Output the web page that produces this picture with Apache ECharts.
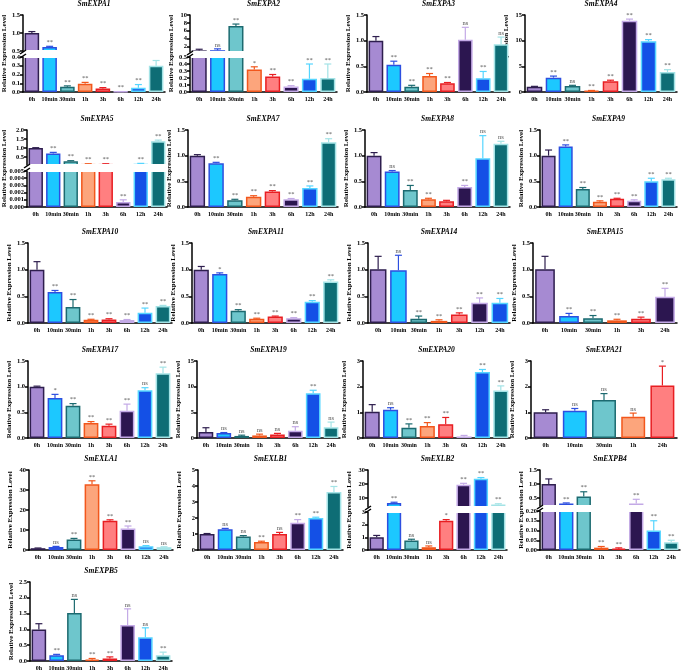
<!DOCTYPE html>
<html>
<head>
<meta charset="utf-8">
<script src="https://cdn.jsdelivr.net/npm/echarts@6/dist/echarts.min.js"></script>
<style>html,body{margin:0;padding:0;background:#fff}#main{width:685px;height:672px}</style>
</head>
<body>
<div id="main"></div>
<script>
// categories
var cat8 = ['0h', '10min', '30min', '1h', '3h', '6h', '12h', '24h'];
var cat7 = ['0h', '10min', '30min', '1h', '3h', '12h', '24h'];
var cat6 = ['0h', '10min', '30min', '1h', '3h', '24h'];
var cat5 = ['0h', '10min', '30min', '1h', '24h'];

// mean / sd / significance per gene
var expa1Mean = [1.0, 0.61, 0.06, 0.095, 0.04, 0.003, 0.05, 0.30];
var expa1Sd = [0.04, 0.02, 0.01, 0.015, 0.01, 0.002, 0.035, 0.06];
var expa1Sig = ['', '**', '**', '**', '**', '**', '**', '**'];

var expa2Mean = [1.0, 1.05, 7.2, 0.32, 0.22, 0.08, 0.19, 0.20];
var expa2Sd = [0.3, 0.35, 0.5, 0.04, 0.03, 0.01, 0.21, 0.20];
var expa2Sig = ['', 'ns', '**', '*', '**', '**', '**', '**'];

var expa3Mean = [1.0, 0.53, 0.10, 0.31, 0.17, 1.02, 0.27, 0.93];
var expa3Sd = [0.08, 0.07, 0.03, 0.05, 0.015, 0.24, 0.13, 0.14];
var expa3Sig = ['', '**', '**', '**', '**', 'ns', '**', 'ns'];

var expa4Mean = [1.0, 2.8, 1.15, 0.25, 2.1, 13.9, 9.9, 3.9];
var expa4Sd = [0.1, 0.3, 0.15, 0.05, 0.2, 0.3, 0.3, 0.45];
var expa4Sig = ['', '**', 'ns', '**', '**', '**', '**', '**'];

var expa5Mean = [1.0, 0.70, 0.27, 0.12, 0.12, 0.0007, 0.13, 1.38];
var expa5Sd = [0.02, 0.06, 0.03, 0.01, 0.01, 0.0003, 0.02, 0.06];
var expa5Sig = ['', '**', '**', '**', '**', '**', '**', '**'];

var expa7Mean = [1.0, 0.85, 0.13, 0.20, 0.30, 0.15, 0.37, 1.26];
var expa7Sd = [0.02, 0.02, 0.02, 0.02, 0.02, 0.015, 0.04, 0.07];
var expa7Sig = ['', '**', '**', '**', '**', '**', '**', '**'];

var expa8Mean = [1.0, 0.69, 0.33, 0.15, 0.11, 0.39, 0.95, 1.23];
var expa8Sd = [0.06, 0.02, 0.09, 0.02, 0.02, 0.03, 0.44, 0.05];
var expa8Sig = ['', 'ns', '**', '**', '', '**', 'ns', 'ns'];

var expa9Mean = [1.0, 1.18, 0.35, 0.10, 0.16, 0.12, 0.50, 0.54];
var expa9Sd = [0.11, 0.03, 0.03, 0.02, 0.01, 0.02, 0.06, 0.02];
var expa9Sig = ['', '**', '**', '**', '**', '**', '**', '**'];

var expa10Mean = [1.0, 0.58, 0.30, 0.06, 0.065, 0.055, 0.19, 0.32];
var expa10Sd = [0.15, 0.03, 0.14, 0.01, 0.015, 0.01, 0.09, 0.01];
var expa10Sig = ['', '**', '**', '**', '**', '**', '**', '**'];

var expa11Mean = [1.0, 0.92, 0.23, 0.08, 0.12, 0.09, 0.40, 0.78];
var expa11Sd = [0.06, 0.02, 0.02, 0.01, 0.01, 0.01, 0.02, 0.03];
var expa11Sig = ['', '*', '**', '**', '**', '**', '**', '**'];

var expa14Mean = [1.01, 0.99, 0.08, 0.04, 0.16, 0.38, 0.38];
var expa14Sd = [0.24, 0.28, 0.05, 0.02, 0.03, 0.09, 0.08];
var expa14Sig = ['', 'ns', '**', '**', '**', '**', '**'];

var expa15Mean = [1.01, 0.13, 0.09, 0.05, 0.08, 0.49];
var expa15Sd = [0.24, 0.05, 0.05, 0.02, 0.03, 0.16];
var expa15Sig = ['', '**', '**', '**', '**', '**'];

var expa17Mean = [1.0, 0.78, 0.63, 0.29, 0.24, 0.53, 0.93, 1.26];
var expa17Sd = [0.01, 0.07, 0.04, 0.03, 0.03, 0.13, 0.05, 0.12];
var expa17Sig = ['', '*', '**', '**', '**', '**', 'ns', '**'];

var expa19Mean = [1.15, 0.96, 0.4, 0.5, 0.7, 1.4, 8.7, 2.1];
var expa19Sd = [0.85, 0.1, 0.15, 0.25, 0.2, 0.8, 0.6, 1.0];
var expa19Sig = ['', 'ns', 'ns', 'ns', 'ns', 'ns', '**', 'ns'];

var expa20Mean = [1.02, 1.1, 0.4, 0.47, 0.54, 0.06, 2.57, 1.85];
var expa20Sd = [0.28, 0.08, 0.15, 0.13, 0.26, 0.04, 0.1, 0.18];
var expa20Sig = ['', 'ns', '**', '**', '**', '', '**', '**'];

var expa21Mean = [1.0, 1.06, 1.48, 0.83, 2.05];
var expa21Sd = [0.1, 0.09, 0.25, 0.14, 0.75];
var expa21Sig = ['', 'ns', 'ns', 'ns', '*'];

var exla1Mean = [0.9, 1.5, 5.3, 32.9, 14.6, 10.8, 1.9, 1.4];
var exla1Sd = [0.1, 0.3, 0.5, 1.7, 0.5, 1.2, 0.3, 0.2];
var exla1Sig = ['', 'ns', '**', '**', '**', '**', 'ns', 'ns'];

var exlb1Mean = [1.0, 1.3, 0.85, 0.5, 1.0, 1.7, 2.0, 3.62];
var exlb1Sd = [0.03, 0.05, 0.05, 0.05, 0.1, 0.2, 0.05, 0.35];
var exlb1Sig = ['', 'ns', 'ns', '**', 'ns', '**', '**', '**'];

var exlb2Mean = [1.0, 6.5, 0.75, 0.22, 2.3, 19.5, 23.8, 5.3];
var exlb2Sd = [0.15, 0.5, 0.1, 0.1, 0.1, 1.0, 0.8, 0.6];
var exlb2Sig = ['', '**', 'ns', 'ns', '*', '**', '**', '**'];

var expb4Mean = [1.0, 0.30, 0.55, 0.012, 0.007, 0.30, 0.10, 0.04];
var expb4Sd = [0.18, 0.02, 0.17, 0.006, 0.004, 0.15, 0.05, 0.01];
var expb4Sig = ['', '**', '**', '**', '**', '**', '**', '**'];

var expb5Mean = [1.0, 0.18, 1.52, 0.04, 0.08, 1.14, 0.75, 0.18];
var expb5Sd = [0.18, 0.03, 0.43, 0.04, 0.05, 0.51, 0.30, 0.1];
var expb5Sig = ['', '**', 'ns', '**', '**', 'ns', 'ns', '**'];

// 颜色按柱子位置
var fills = ['#A68AD2', '#1CC8FF', '#6EC6CC', '#FCA57C', '#FF7F80', '#2C1650', '#1450E6', '#0E6D75'];
var borders = ['#2E1E4E', '#2D4FE0', '#1C6A70', '#F2571C', '#E81E22', '#C3A9E6', '#55D5FF', '#A3E3E6'];
var serif = '"Liberation Serif", "Times New Roman", serif';

// layout of each panel
var panels = [
    {gene: 'SmEXPA1', cats: cat8, mean: expa1Mean, sd: expa1Sd, sig: expa1Sig, left: 23, right: 165, top: 15, bottom: 92,
        brk: {upMin: 0.5, upMax: 1.5, upTicks: [0.5, 1.0, 1.5], upBottom: 51, upDec: 1, loMax: 0.4, loTicks: [0, 0.1, 0.2, 0.3, 0.4], loTop: 57, loDec: 1}},
    {gene: 'SmEXPA2', cats: cat8, mean: expa2Mean, sd: expa2Sd, sig: expa2Sig, left: 190, right: 337, top: 15, bottom: 92,
        brk: {upMin: 0.6, upMax: 10, upTicks: [2, 4, 6, 8, 10], upBottom: 52, upDec: 0, loMax: 0.5, loTicks: [0, 0.1, 0.2, 0.3, 0.4, 0.5], loTop: 57, loDec: 1}},
    {gene: 'SmEXPA3', cats: cat8, mean: expa3Mean, sd: expa3Sd, sig: expa3Sig, left: 367, right: 510, top: 15, bottom: 92, max: 1.5, step: 0.5, dec: 1},
    {gene: 'SmEXPA4', cats: cat8, mean: expa4Mean, sd: expa4Sd, sig: expa4Sig, left: 525, right: 677, top: 15, bottom: 92, max: 15, step: 5, dec: 0},

    {gene: 'SmEXPA5', cats: cat8, mean: expa5Mean, sd: expa5Sd, sig: expa5Sig, left: 27, right: 167, top: 130, bottom: 207, nameGap: 20,
        brk: {upMin: 0.06, upMax: 2.0, upTicks: [0.5, 1.0, 1.5, 2.0], upBottom: 165, upDec: 1, loMax: 0.005, loTicks: [0, 0.001, 0.002, 0.003, 0.004, 0.005], loTop: 171, loDec: 3}},
    {gene: 'SmEXPA7', cats: cat8, mean: expa7Mean, sd: expa7Sd, sig: expa7Sig, left: 188, right: 338, top: 130, bottom: 207, max: 1.5, step: 0.5, dec: 1},
    {gene: 'SmEXPA8', cats: cat8, mean: expa8Mean, sd: expa8Sd, sig: expa8Sig, left: 365, right: 510, top: 130, bottom: 207, max: 1.5, step: 0.5, dec: 1},
    {gene: 'SmEXPA9', cats: cat8, mean: expa9Mean, sd: expa9Sd, sig: expa9Sig, left: 540, right: 677, top: 130, bottom: 207, max: 1.5, step: 0.5, dec: 1},

    {gene: 'SmEXPA10', cats: cat8, mean: expa10Mean, sd: expa10Sd, sig: expa10Sig, left: 28, right: 172, top: 243, bottom: 323, max: 1.5, step: 0.5, dec: 1},
    {gene: 'SmEXPA11', cats: cat8, mean: expa11Mean, sd: expa11Sd, sig: expa11Sig, left: 192, right: 340, top: 243, bottom: 323, max: 1.5, step: 0.5, dec: 1},
    {gene: 'SmEXPA14', cats: cat7, mean: expa14Mean, sd: expa14Sd, sig: expa14Sig, left: 368, right: 510, top: 243, bottom: 323, max: 1.5, step: 0.5, dec: 1},
    {gene: 'SmEXPA15', cats: cat6, mean: expa15Mean, sd: expa15Sd, sig: expa15Sig, left: 533, right: 677, top: 243, bottom: 323, max: 1.5, step: 0.5, dec: 1},

    {gene: 'SmEXPA17', cats: cat8, mean: expa17Mean, sd: expa17Sd, sig: expa17Sig, left: 28, right: 172, top: 361, bottom: 438, max: 1.5, step: 0.5, dec: 1},
    {gene: 'SmEXPA19', cats: cat8, mean: expa19Mean, sd: expa19Sd, sig: expa19Sig, left: 197, right: 340, top: 361, bottom: 438, max: 15, step: 5, dec: 0},
    {gene: 'SmEXPA20', cats: cat8, mean: expa20Mean, sd: expa20Sd, sig: expa20Sig, left: 363, right: 510, top: 361, bottom: 438, max: 3, step: 1, dec: 0},
    {gene: 'SmEXPA21', cats: cat5, mean: expa21Mean, sd: expa21Sd, sig: expa21Sig, left: 531, right: 677, top: 361, bottom: 438, max: 3, step: 1, dec: 0},

    {gene: 'SmEXLA1', cats: cat8, mean: exla1Mean, sd: exla1Sd, sig: exla1Sig, left: 29, right: 173, top: 470, bottom: 550, max: 40, step: 10, dec: 0},
    {gene: 'SmEXLB1', cats: cat8, mean: exlb1Mean, sd: exlb1Sd, sig: exlb1Sig, left: 198, right: 343, top: 470, bottom: 550, max: 5, step: 1, dec: 0},
    {gene: 'SmEXLB2', cats: cat8, mean: exlb2Mean, sd: exlb2Sd, sig: exlb2Sig, left: 368, right: 507, top: 470, bottom: 550,
        brk: {upMin: 3.6, upMax: 30, upTicks: [10, 20, 30], upBottom: 507, upDec: 0, loMax: 3, loTicks: [0, 1, 2, 3], loTop: 512, loDec: 0}},
    {gene: 'SmEXPB4', cats: cat8, mean: expb4Mean, sd: expb4Sd, sig: expb4Sig, left: 540, right: 680, top: 470, bottom: 550,
        brk: {upMin: 0.21, upMax: 1.5, upTicks: [0.5, 1.0, 1.5], upBottom: 506, upDec: 1, loMax: 0.2, loTicks: [0, 0.05, 0.1, 0.15, 0.2], loTop: 511, loDec: 2}},

    {gene: 'SmEXPB5', cats: cat8, mean: expb5Mean, sd: expb5Sd, sig: expb5Sig, left: 30, right: 172, top: 582, bottom: 661, max: 2.5, step: 0.5, dec: 1}
];

var grids = [], xAxes = [], yAxes = [], series = [], graphics = [];

var labelStyle = {fontFamily: serif, fontWeight: 'bold', fontSize: 6.5, color: '#000'};
var xLabelStyle = {fontFamily: serif, fontWeight: 'bold', fontSize: 6, color: '#000'};
var lineStyle = {color: '#000', width: 1.5};

function addGrid(p, top, bottom, showX) {
    var gi = grids.length;
    grids.push({left: p.left, top: top, width: p.right - p.left, height: bottom - top});
    xAxes.push({
        type: 'category', gridIndex: gi, data: p.cats, show: showX,
        axisLine: {lineStyle: lineStyle},
        axisTick: {alignWithLabel: true, length: 3, lineStyle: lineStyle},
        axisLabel: Object.assign({interval: 0, margin: 4}, xLabelStyle)
    });
    return gi;
}

function valueAxis(gi, cfg, dec) {
    var ax = {
        type: 'value', gridIndex: gi,
        axisLine: {show: true, lineStyle: lineStyle},
        axisTick: {show: true, length: 3, lineStyle: lineStyle},
        splitLine: {show: false},
        axisLabel: Object.assign({margin: 3, formatter: function (v) { return v.toFixed(dec); }}, labelStyle)
    };
    return Object.assign(ax, cfg);
}

function barSeries(gi, p, values) {
    return {
        type: 'bar', xAxisIndex: gi, yAxisIndex: gi, clip: true, barCategoryGap: '18%',
        data: values.map(function (v, i) {
            return {value: v, itemStyle: {color: fills[i], borderColor: borders[i], borderWidth: 1.5}};
        })
    };
}

// 误差线 + 显著性标记
function errSeries(gi, p, idx) {
    return {
        type: 'custom', xAxisIndex: gi, yAxisIndex: gi, z: 3,
        data: idx.map(function (i) { return [i, p.mean[i], p.mean[i] + p.sd[i]]; }),
        renderItem: function (params, api) {
            var i = api.value(0);
            var a = api.coord([i, api.value(1)]);
            var b = api.coord([i, api.value(2)]);
            var c = borders[i];
            var kids = [
                {type: 'line', shape: {x1: a[0], y1: a[1], x2: b[0], y2: b[1]}, style: {stroke: c, lineWidth: 1.2}},
                {type: 'line', shape: {x1: b[0] - 3.5, y1: b[1], x2: b[0] + 3.5, y2: b[1]}, style: {stroke: c, lineWidth: 1.2}}
            ];
            if (p.sig[i]) {
                kids.push({type: 'text', x: b[0], y: b[1] - 0.5, style: {
                    text: p.sig[i], textAlign: 'center', textVerticalAlign: 'bottom',
                    fill: '#555', font: '6.5px ' + serif
                }});
            }
            return {type: 'group', children: kids};
        }
    };
}

var yName = 'Relative Expression Level';
var nameStyle = {fontFamily: serif, fontWeight: 'bold', fontSize: 7, color: '#000'};

panels.forEach(function (p) {
    var all = p.cats.map(function (c, i) { return i; });
    var gap = p.nameGap || 15;
    if (!p.brk) {
        var g = addGrid(p, p.top, p.bottom, true);
        yAxes.push(valueAxis(g, {min: 0, max: p.max, interval: p.step, name: yName, nameLocation: 'middle',
            nameGap: gap, nameTextStyle: nameStyle}, p.dec));
        series.push(barSeries(g, p, p.mean));
        series.push(errSeries(g, p, all));
    } else {
        var b = p.brk;
        var gu = addGrid(p, p.top, b.upBottom, false);
        yAxes.push(valueAxis(gu, {min: b.upMin, max: b.upMax,
            axisLabel: Object.assign({margin: 3, customValues: b.upTicks, formatter: function (v) { return v.toFixed(b.upDec); }}, labelStyle),
            axisTick: {show: true, length: 3, lineStyle: lineStyle, customValues: b.upTicks}}, b.upDec));
        var gl = addGrid(p, b.loTop, p.bottom, true);
        yAxes.push(valueAxis(gl, {min: 0, max: b.loMax,
            axisLabel: Object.assign({margin: 3, customValues: b.loTicks, formatter: function (v) { return v.toFixed(b.loDec); }}, labelStyle),
            axisTick: {show: true, length: 3, lineStyle: lineStyle, customValues: b.loTicks}}, b.loDec));
        // 只显示轴名的整块坐标
        var gn = addGrid(p, p.top, p.bottom, false);
        yAxes.push({type: 'value', gridIndex: gn, axisLine: {show: false}, axisTick: {show: false},
            axisLabel: {show: false}, splitLine: {show: false},
            name: yName, nameLocation: 'middle', nameGap: gap, nameTextStyle: nameStyle});

        var upIdx = all.filter(function (i) { return p.mean[i] > b.loMax; });
        var loIdx = all.filter(function (i) { return p.mean[i] <= b.loMax; });
        series.push(barSeries(gu, p, p.mean.map(function (v) { return v > b.loMax ? v : '-'; })));
        series.push(errSeries(gu, p, upIdx));
        series.push(barSeries(gl, p, p.mean));
        series.push(errSeries(gl, p, loIdx));

        // 断口处盖一条白带, 去掉柱子被截断处的边框
        graphics.push({type: 'rect', z: 100, shape: {x: p.left + 1, y: b.upBottom - 1, width: p.right - p.left, height: b.loTop - b.upBottom + 2},
            style: {fill: '#fff'}});
        // 断轴标记
        [b.upBottom + 1, b.loTop - 1].forEach(function (yy) {
            graphics.push({type: 'line', z: 101, shape: {x1: p.left - 3, y1: yy + 2, x2: p.left + 3, y2: yy - 2},
                style: {stroke: '#000', lineWidth: 1.5}});
        });
    }
    graphics.push({type: 'text', x: (p.left + p.right) / 2, y: p.top - 11, style: {
        text: p.gene, textAlign: 'center', textVerticalAlign: 'middle',
        font: 'italic bold 7.5px ' + serif, fill: '#000'
    }});
});

var myChart = echarts.init(document.getElementById('main'));
myChart.setOption({
    animation: false,
    grid: grids,
    xAxis: xAxes,
    yAxis: yAxes,
    series: series,
    graphic: {elements: graphics}
});
</script>
</body>
</html>
